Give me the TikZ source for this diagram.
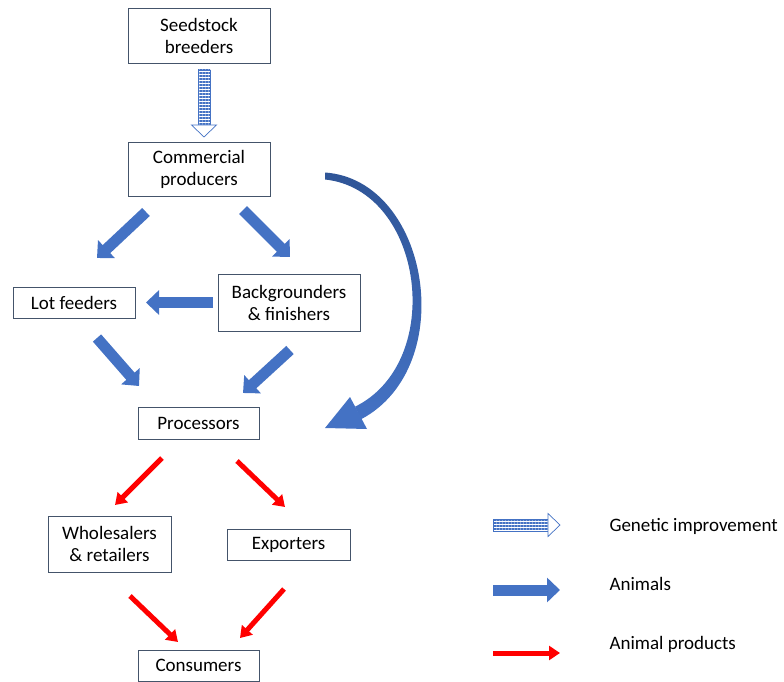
\documentclass[tikz,border=0pt]{standalone}
\usepackage{fontspec}
\setmainfont{Carlito}
\usetikzlibrary{arrows.meta,patterns.meta}
\definecolor{boxline}{RGB}{68,84,106}
\definecolor{animalblue}{RGB}{68,114,196}
\definecolor{animaldark}{RGB}{47,85,151}
\definecolor{productred}{RGB}{255,0,0}
\tikzset{
    box/.style={draw=boxline, line width=0.8pt, align=center, inner sep=0pt,
        font=\fontsize{19}{22}\selectfont},
    animal/.style={draw=animalblue, line width=11pt, -{Triangle[width=24pt,length=13pt]}},
    product/.style={draw=productred, line width=5pt, -{Triangle[width=14pt,length=11pt]}},
    genetic/.style={draw=animalblue, line width=0.7pt,
        pattern={Lines[angle=0,distance=3pt,line width=1.3pt]}, pattern color=animalblue},
    genetichead/.style={draw=animalblue, line width=0.7pt, fill=white},
    legend/.style={anchor=base west, font=\fontsize{19}{22}\selectfont}
}
\begin{document}
\begin{tikzpicture}[x=1pt,y=-1pt]
    \useasboundingbox (0,0) rectangle (784,682);

    % boxes
    \node[box, minimum width=142pt, minimum height=55pt] (seed) at (199,35.5) {Seedstock\\breeders};
    \node[box, minimum width=142pt, minimum height=54pt] (comm) at (199,169) {Commercial\\producers};
    \node[box, minimum width=122pt, minimum height=31pt] (lot) at (74,302.5) {Lot feeders};
    \node[box, minimum width=142pt, minimum height=57pt] (back) at (289,302.5) {Backgrounders\\\& finishers};
    \node[box, minimum width=121pt, minimum height=32pt] (proc) at (198.5,423) {Processors};
    \node[box, minimum width=123pt, minimum height=56pt] (whole) at (109.5,544) {Wholesalers\\\& retailers};
    \node[box, minimum width=123pt, minimum height=31pt] (exp) at (288.5,544.5) {Exporters};
    \node[box, minimum width=121pt, minimum height=31pt] (cons) at (198.5,665.5) {Consumers};

    % arrow ends
    \coordinate (gs) at (204,70);
    \coordinate (gt) at (204,137);
    \coordinate (cl0) at (146,212);
    \coordinate (cl1) at (97,258);
    \coordinate (cb0) at (243,210);
    \coordinate (cb1) at (290,257);
    \coordinate (bl0) at (213,302.5);
    \coordinate (bl1) at (146,302.5);
    \coordinate (lp0) at (97,338);
    \coordinate (lp1) at (139,386);
    \coordinate (bp0) at (290,350);
    \coordinate (bp1) at (243,393);
    \coordinate (pw0) at (162,458);
    \coordinate (pw1) at (115,505);
    \coordinate (pe0) at (237,461);
    \coordinate (pe1) at (285,507);
    \coordinate (wc0) at (130,596);
    \coordinate (wc1) at (178,642);
    \coordinate (ec0) at (284,589);
    \coordinate (ec1) at (240,638);

    % genetic improvement
    \draw[genetic] ([xshift=-6pt]gs) rectangle ([xshift=6pt,yshift=12pt]gt);
    \draw[genetichead] ([xshift=-12.5pt,yshift=12pt]gt) -- (gt) -- ([xshift=12.5pt,yshift=12pt]gt) -- cycle;

    % animals
    \draw[animal] (cl0) -- (cl1);
    \draw[animal] (cb0) -- (cb1);
    \draw[animal] (bl0) -- (bl1);
    \draw[animal] (lp0) -- (lp1);
    \draw[animal] (bp0) -- (bp1);

    % commercial producers straight to processors
    \shade[top color=animaldark, bottom color=animalblue]
        (325,172.5) .. controls (430,180) and (460,367) .. (361,419.3)
        -- (355,406.7) .. controls (446,362) and (424,190) .. (325,179.5) -- cycle;
    \fill[animalblue] (350,397) -- (325,428) -- (367,429) -- cycle;

    % animal products
    \draw[product] (pw0) -- (pw1);
    \draw[product] (pe0) -- (pe1);
    \draw[product] (wc0) -- (wc1);
    \draw[product] (ec0) -- (ec1);

    % legend
    \coordinate (lg0) at (493,525);
    \coordinate (lg1) at (560,525);
    \coordinate (la0) at (493,590);
    \coordinate (la1) at (560,590);
    \coordinate (lr0) at (493,653);
    \coordinate (lr1) at (560,653);
    \draw[genetic] ([yshift=6pt]lg0) rectangle ([xshift=-12pt,yshift=-6pt]lg1);
    \draw[genetichead] ([xshift=-12pt,yshift=11.5pt]lg1) -- (lg1) -- ([xshift=-12pt,yshift=-11.5pt]lg1) -- cycle;
    \draw[animal] (la0) -- (la1);
    \draw[product] (lr0) -- (lr1);
    \node[legend] (lgt) at (606,531.5) {Genetic improvement};
    \node[legend] (lat) at (606,590.5) {Animals};
    \node[legend] (lrt) at (606,649) {Animal products};
\end{tikzpicture}
\end{document}
